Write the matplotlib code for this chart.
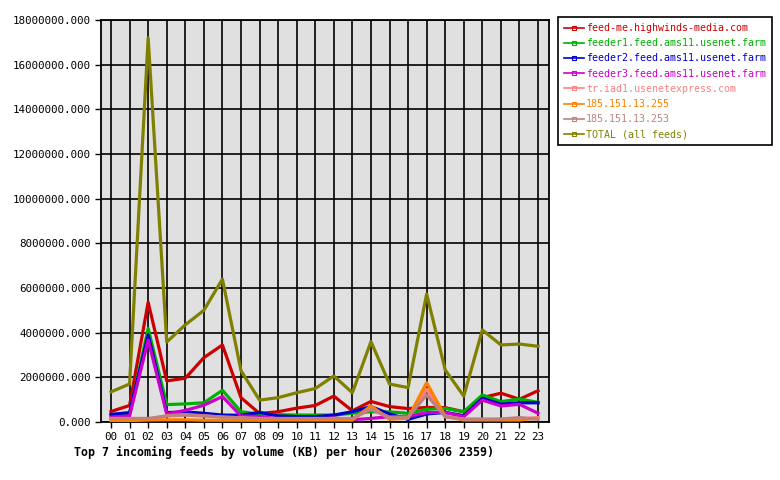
import matplotlib
matplotlib.use('Agg')
import matplotlib.pyplot as plt
from matplotlib.lines import Line2D
from matplotlib.ticker import FuncFormatter, MultipleLocator

hours = ['00', '01', '02', '03', '04', '05', '06', '07', '08', '09', '10', '11',
         '12', '13', '14', '15', '16', '17', '18', '19', '20', '21', '22', '23']

# KB per hour
feed_me = [0.47e6, 0.74e6, 5.36e6, 1.84e6, 1.96e6, 2.88e6, 3.45e6, 1.09e6, 0.38e6, 0.46e6, 0.62e6, 0.74e6,
           1.16e6, 0.50e6, 0.92e6, 0.69e6, 0.60e6, 0.65e6, 0.64e6, 0.46e6, 1.09e6, 1.29e6, 1.02e6, 1.40e6]
feeder1 = [0.33e6, 0.36e6, 4.19e6, 0.78e6, 0.81e6, 0.86e6, 1.42e6, 0.46e6, 0.35e6, 0.33e6, 0.31e6, 0.31e6,
           0.31e6, 0.39e6, 0.46e6, 0.45e6, 0.39e6, 0.57e6, 0.61e6, 0.46e6, 1.21e6, 0.91e6, 1.03e6, 0.88e6]
feeder2 = [0.34e6, 0.42e6, 3.90e6, 0.42e6, 0.45e6, 0.39e6, 0.31e6, 0.30e6, 0.43e6, 0.27e6, 0.24e6, 0.24e6,
           0.31e6, 0.46e6, 0.69e6, 0.36e6, 0.12e6, 0.36e6, 0.43e6, 0.28e6, 1.06e6, 0.80e6, 0.86e6, 0.86e6]
feeder3 = [0.22e6, 0.27e6, 3.67e6, 0.36e6, 0.52e6, 0.75e6, 1.14e6, 0.27e6, 0.24e6, 0.15e6, 0.12e6, 0.12e6,
           0.18e6, 0.10e6, 0.16e6, 0.24e6, 0.25e6, 0.42e6, 0.43e6, 0.24e6, 0.98e6, 0.72e6, 0.79e6, 0.39e6]
tr_iad1 = [0.12e6, 0.12e6, 0.12e6, 0.28e6, 0.33e6, 0.28e6, 0.22e6, 0.18e6, 0.10e6, 0.12e6, 0.12e6, 0.12e6,
           0.14e6, 0.14e6, 0.60e6, 0.20e6, 0.20e6, 1.46e6, 0.25e6, 0.12e6, 0.12e6, 0.12e6, 0.14e6, 0.20e6]
ip_255 = [0.06e6, 0.06e6, 0.09e6, 0.10e6, 0.10e6, 0.08e6, 0.08e6, 0.08e6, 0.08e6, 0.09e6, 0.09e6, 0.09e6,
          0.09e6, 0.09e6, 0.72e6, 0.12e6, 0.17e6, 1.76e6, 0.24e6, 0.09e6, 0.09e6, 0.09e6, 0.09e6, 0.17e6]
ip_253 = [0.16e6, 0.16e6, 0.16e6, 0.27e6, 0.31e6, 0.27e6, 0.22e6, 0.20e6, 0.16e6, 0.16e6, 0.16e6, 0.16e6,
          0.16e6, 0.16e6, 0.57e6, 0.20e6, 0.22e6, 1.21e6, 0.24e6, 0.13e6, 0.13e6, 0.13e6, 0.20e6, 0.12e6]
total = [1.35e6, 1.70e6, 17.2e6, 3.58e6, 4.35e6, 5.0e6, 6.4e6, 2.3e6, 0.98e6, 1.09e6, 1.31e6, 1.50e6,
         2.06e6, 1.31e6, 3.6e6, 1.70e6, 1.54e6, 5.73e6, 2.33e6, 1.16e6, 4.12e6, 3.45e6, 3.49e6, 3.39e6]

names = ['feed-me.highwinds-media.com', 'feeder1.feed.ams11.usenet.farm',
         'feeder2.feed.ams11.usenet.farm', 'feeder3.feed.ams11.usenet.farm',
         'tr.iad1.usenetexpress.com', '185.151.13.255', '185.151.13.253', 'TOTAL (all feeds)']
series = [feed_me, feeder1, feeder2, feeder3, tr_iad1, ip_255, ip_253, total]
colors = ['#cc0000', '#00b000', '#0000cc', '#cc00cc', '#ff8080', '#ff8000', '#c08080', '#808000']

plt.rcParams['font.family'] = 'DejaVu Sans Mono'

fig = plt.figure(figsize=(7.8, 4.8), dpi=100)
ax = fig.add_axes([101 / 780, 1 - 422 / 480, 448 / 780, 402 / 480])
ax.set_facecolor('#e0e0e0')

x = list(range(len(hours)))
ax.plot(x, total, color=colors[7], lw=2.3, zorder=2)
for vals, c in zip(series[:7], colors[:7]):
    ax.plot(x, vals, color=c, lw=2.3, zorder=3)

ax.set_xlim(-0.54, 23.59)
ax.set_ylim(0, 18e6)
ax.set_xticks(x)
ax.set_xticklabels(hours)
ax.yaxis.set_major_locator(MultipleLocator(2e6))
ax.yaxis.set_major_formatter(FuncFormatter(lambda v, p: f'{v:.3f}'))
ax.tick_params(labelsize=7.8, colors='black', width=1, length=4)
ax.grid(True, color='black', lw=1.2)
ax.set_axisbelow(True)
for s in ax.spines.values():
    s.set_linewidth(1.3)

handles = [Line2D([], [], color=c, lw=1.2, marker='s', markersize=3,
                  markerfacecolor='none', markeredgewidth=0.8) for c in colors]
leg = fig.legend(handles, names, loc='upper left',
                 bbox_to_anchor=(558 / 780, 1 - 17 / 480), fontsize=7.2,
                 labelcolor=colors, fancybox=False, edgecolor='black',
                 framealpha=1, handlelength=2.0, handletextpad=0.2,
                 labelspacing=0.52, borderpad=0.6, borderaxespad=0)
leg.get_frame().set_linewidth(1.2)

fig.text(74 / 780, 1 - 452 / 480, 'Top 7 incoming feeds by volume (KB) per hour (20260306 2359)',
         fontsize=8.4, fontweight='bold', va='center', ha='left')

fig.savefig('out.png', dpi=100)
